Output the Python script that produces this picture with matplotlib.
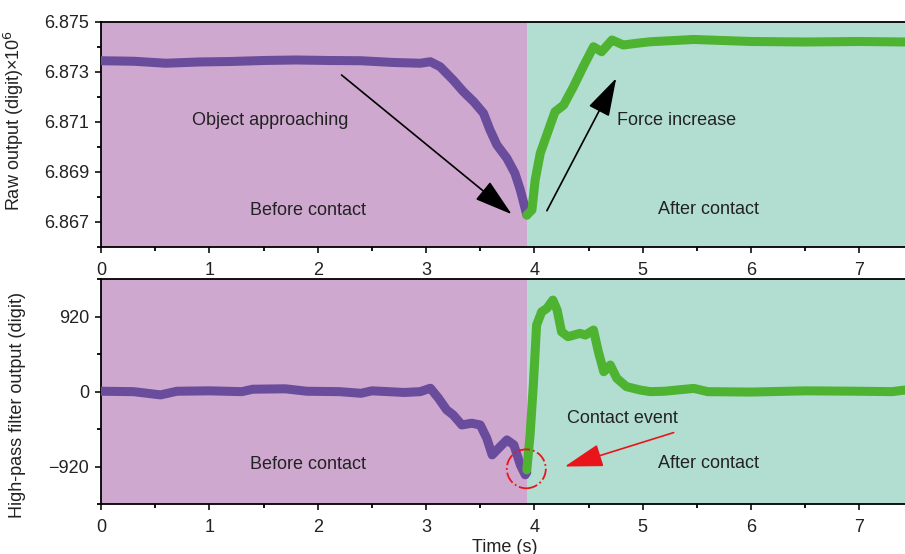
import matplotlib.pyplot as plt
from matplotlib.patches import Ellipse
from matplotlib.ticker import MultipleLocator

plt.rcParams['font.family'] = ['Liberation Sans', 'DejaVu Sans']

# contact happens here (s)
t_contact = 3.93
t_end = 7.42

# raw output, before contact (x1e6)
raw_before_t = [0.0, 0.3, 0.6, 0.9, 1.2, 1.5, 1.8, 2.1, 2.4, 2.7, 2.946, 3.04,
                3.13, 3.25, 3.345, 3.44, 3.53, 3.59, 3.654, 3.746, 3.82, 3.87,
                3.906, 3.93]
raw_before_v = [6.87345, 6.87343, 6.87335, 6.87340, 6.87342, 6.87346, 6.87348,
                6.87346, 6.87345, 6.87338, 6.87335, 6.87341,
                6.87321, 6.87268, 6.87221, 6.87181, 6.87135, 6.87068, 6.87008,
                6.86955, 6.86895, 6.86828, 6.86768, 6.86728]

# raw output, after contact
raw_after_t = [3.93, 3.977, 4.007, 4.054, 4.13, 4.19, 4.27, 4.36, 4.45, 4.545,
               4.62, 4.716, 4.82, 4.946, 5.07, 5.47, 6.0, 6.5, 7.0, 7.42]
raw_after_v = [6.86728, 6.86748, 6.86868, 6.86975, 6.87068, 6.87141, 6.87168,
               6.87241, 6.87321, 6.87401, 6.87381, 6.87428, 6.87408, 6.87415,
               6.87421, 6.87430, 6.87422, 6.87420, 6.87422, 6.87420]

# high-pass filter output, before contact
hp_before_t = [0.0, 0.3, 0.55, 0.7, 1.0, 1.3, 1.4, 1.7, 1.9, 2.2, 2.4, 2.5,
               2.8, 2.946, 3.04, 3.115, 3.19, 3.25, 3.33, 3.42, 3.50, 3.56,
               3.61, 3.67, 3.746, 3.81, 3.87, 3.915, 3.93]
hp_before_v = [5, 0, -40, 5, 10, 0, 30, 35, 5, 0, -20, 10, -10, 0, 42,
               -81, -224, -286, -409, -388, -409, -572, -777, -695, -593,
               -654, -900, -1022, -990]

# high-pass filter output, after contact
hp_after_t = [3.93, 3.96, 3.99, 4.02, 4.067, 4.115, 4.17, 4.21, 4.25, 4.31,
              4.42, 4.47, 4.545, 4.59, 4.64, 4.70, 4.76, 4.85, 4.976, 5.07,
              5.2, 5.47, 5.6, 6.0, 6.5, 7.0, 7.3, 7.42]
hp_after_v = [-961, -531, 82, 818, 981, 1023, 1125, 1002, 736, 675,
              716, 695, 757, 491, 245, 327, 164, 61, 20, 0,
              5, 40, 0, -5, 10, 5, 0, 20]

bg_before = '#cfa8cf'
bg_after = '#b2ddd1'
c_before = '#6a4c9c'
c_after = '#4db331'
txt = '#222222'
fs = 13

fig = plt.figure(figsize=(9.05, 5.54), dpi=100)
ax1 = fig.add_axes([0.1116, 0.5542, 0.8884, 0.4061])
ax2 = fig.add_axes([0.1116, 0.0903, 0.8884, 0.4055])

for ax in (ax1, ax2):
    ax.axvspan(0, t_contact, color=bg_before, lw=0, zorder=0)
    ax.axvspan(t_contact, t_end, color=bg_after, lw=0, zorder=0)
    ax.set_xlim(0, t_end)
    ax.xaxis.set_major_locator(MultipleLocator(1))
    ax.xaxis.set_minor_locator(MultipleLocator(0.5))
    ax.spines['right'].set_visible(False)
    for s in ('left', 'top', 'bottom'):
        ax.spines[s].set_linewidth(1.3)
    ax.tick_params(axis='both', which='major', direction='out', length=4.5,
                   width=1.3, labelsize=fs, colors=txt)
    ax.tick_params(axis='both', which='minor', direction='out', length=3,
                   width=1.3)
    ax.tick_params(axis='x', pad=6)
    ax.tick_params(axis='y', pad=4)

# top panel: raw output
ax1.plot(raw_before_t, raw_before_v, color=c_before, lw=6.5,
         solid_capstyle='round', solid_joinstyle='round', zorder=3)
ax1.plot(raw_after_t, raw_after_v, color=c_after, lw=6.5,
         solid_capstyle='round', solid_joinstyle='round', zorder=3)
ax1.set_ylim(6.866, 6.875)
ax1.set_yticks([6.867, 6.869, 6.871, 6.873, 6.875])
ax1.yaxis.set_minor_locator(MultipleLocator(0.001))
ax1.yaxis.set_major_formatter(plt.FormatStrFormatter('%.3f'))
ax1.set_ylabel('Raw output (digit)×10$^6$', fontsize=fs, color=txt)
ax1.yaxis.set_label_coords(-0.093, 0.56)

ax1.text(1.56, 6.87104, 'Object approaching', fontsize=fs, color=txt,
         ha='center', va='center')
ax1.text(1.91, 6.86745, 'Before contact', fontsize=fs, color=txt,
         ha='center', va='center')
ax1.text(5.31, 6.87105, 'Force increase', fontsize=fs, color=txt,
         ha='center', va='center')
ax1.text(5.61, 6.86748, 'After contact', fontsize=fs, color=txt,
         ha='center', va='center')

arrow_k = dict(arrowstyle='-|>,head_length=1.2,head_width=0.36', color='black',
               lw=1.2, shrinkA=0, shrinkB=0, mutation_scale=20)
ax1.annotate('', xy=(3.79, 6.86731), xytext=(2.22, 6.87288),
             arrowprops=arrow_k, zorder=4)
ax1.annotate('', xy=(4.755, 6.87275), xytext=(4.115, 6.86745),
             arrowprops=arrow_k, zorder=4)

# bottom panel: high-pass filter output
ax2.plot(hp_before_t, hp_before_v, color=c_before, lw=6.5,
         solid_capstyle='round', solid_joinstyle='round', zorder=3)
ax2.plot(hp_after_t, hp_after_v, color=c_after, lw=6.5,
         solid_capstyle='round', solid_joinstyle='round', zorder=3)
ax2.set_ylim(-1380, 1380)
ax2.set_yticks([-920, 0, 920])
ax2.yaxis.set_minor_locator(MultipleLocator(460))
ax2.set_ylabel('High-pass filter output (digit)', fontsize=fs, color=txt)
ax2.yaxis.set_label_coords(-0.093, 0.44)

ax2.text(1.91, -891, 'Before contact', fontsize=fs, color=txt,
         ha='center', va='center')
ax2.text(4.81, -335, 'Contact event', fontsize=fs, color=txt,
         ha='center', va='center')
ax2.text(5.61, -887, 'After contact', fontsize=fs, color=txt,
         ha='center', va='center')

arrow_r = dict(arrowstyle='-|>,head_length=1.2,head_width=0.36', color='#e8161b',
               lw=1.2, shrinkA=0, shrinkB=0, mutation_scale=20)
ax2.annotate('', xy=(4.28, -920), xytext=(5.285, -503),
             arrowprops=arrow_r, zorder=4)
ax2.add_patch(Ellipse((3.925, -948), 0.36, 478, fill=False, ec='#e8161b',
                      lw=1.3, ls='-.', zorder=5))

fig.text(505 / 905, 1 - 547 / 554, 'Time (s)', fontsize=fs, color=txt,
         ha='center', va='center')

fig.savefig('out.png', dpi=100)
